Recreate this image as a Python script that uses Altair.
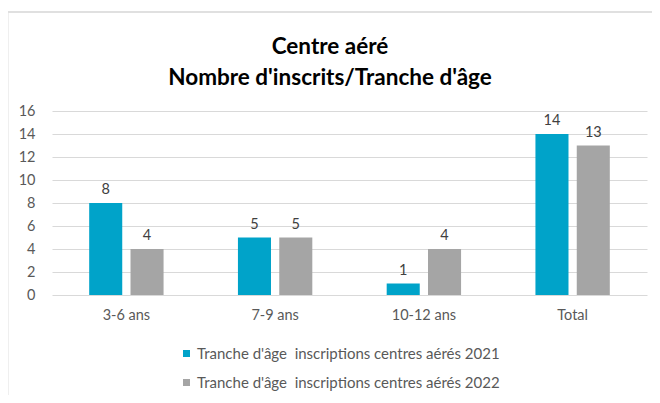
import altair as alt
import pandas as pd

categories = ["3-6 ans", "7-9 ans", "10-12 ans", "Total"]
series = [
    "Tranche d'âge\u00a0 inscriptions centres aérés 2021",
    "Tranche d'âge\u00a0 inscriptions centres aérés 2022",
]
values_2021 = [8, 5, 1, 14]
values_2022 = [4, 5, 4, 13]
y_ticks = [0, 2, 4, 6, 8, 10, 12, 14, 16]
colors = ["#00A3C9", "#A5A5A5"]
title_lines = ["Centre aéré", "Nombre d'inscrits/Tranche d'âge"]

rows = []
for c, a, b in zip(categories, values_2021, values_2022):
    rows.append({"cat": c, "serie": series[0], "val": a})
    rows.append({"cat": c, "serie": series[1], "val": b})
df = pd.DataFrame(rows)

FONT = "Lato"

x = alt.X(
    "cat:N",
    sort=categories,
    scale=alt.Scale(paddingInner=0.5, paddingOuter=0.25),
    axis=alt.Axis(
        title=None, labelAngle=0, domain=False, ticks=False, labelPadding=13,
        labelFontSize=14.5, labelColor="#595959", labelFont=FONT,
    ),
)
xo = alt.XOffset("serie:N", sort=series, scale=alt.Scale(paddingInner=0.2))
y = alt.Y(
    "val:Q",
    scale=alt.Scale(domain=[0, 16]),
    axis=alt.Axis(
        values=y_ticks, title=None, domain=False, ticks=False, labelPadding=17,
        gridColor="#d9d9d9", gridWidth=1, labelFontSize=14.5, labelColor="#595959",
        labelFont=FONT,
    ),
)
color = alt.Color(
    "serie:N",
    sort=series,
    scale=alt.Scale(domain=series, range=colors),
    legend=alt.Legend(
        title=None, orient="none", direction="vertical", legendX=127, legendY=235,
        symbolType="square", symbolSize=49, symbolStrokeWidth=0, labelOffset=3,
        labelFontSize=15, labelColor="#595959", labelFont=FONT, rowPadding=13,
        labelLimit=500,
    ),
)

bars = alt.Chart(df).mark_bar().encode(x=x, xOffset=xo, y=y, color=color)
labels = alt.Chart(df).mark_text(
    dy=-9, baseline="alphabetic", fontSize=14.5, color="#404040", font=FONT
).encode(x=x, xOffset=xo, y=y, text="val:Q")

one = pd.DataFrame({"a": [0]})
border_left = alt.Chart(one).mark_rule(color="#e0e0e0", strokeWidth=2).encode(
    x=alt.value(-44.5), y=alt.value(-99), y2=alt.value(300)
)
border_top = alt.Chart(one).mark_rule(color="#e0e0e0", strokeWidth=2).encode(
    x=alt.value(-44.5), x2=alt.value(610), y=alt.value(-99)
)
title1 = alt.Chart(one).mark_text(
    text=title_lines[0], font=FONT, fontSize=22.5, fontWeight="bold", color="#000000",
    align="center", baseline="middle",
).encode(x=alt.value(278), y=alt.value(-64))
title2 = alt.Chart(one).mark_text(
    text=title_lines[1], font=FONT, fontSize=22.5, fontWeight="bold", color="#000000",
    align="center", baseline="middle",
).encode(x=alt.value(278), y=alt.value(-33))

chart = (
    alt.layer(border_left, border_top, title1, title2, bars, labels)
    .properties(
        width=595,
        height=184,
        autosize=alt.AutoSizeParams(type="none"),
        padding={"left": 44, "top": 103, "right": 5, "bottom": 100},
    )
    .configure_view(stroke=None)
)

chart.save("out.html", embed_options={"renderer": "svg", "actions": False})
